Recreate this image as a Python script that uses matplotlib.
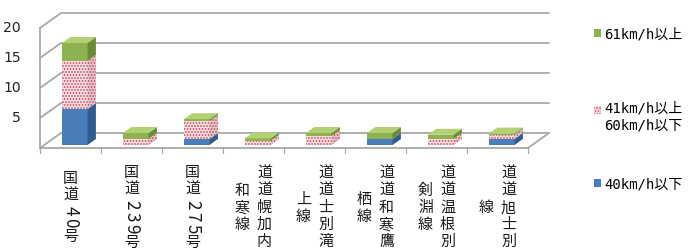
import numpy as np
import matplotlib
matplotlib.use('Agg')
import matplotlib.pyplot as plt
from matplotlib.patches import Polygon, Patch

# categories (tick labels, '\n' = next vertical column to the left)
categories = ['国道40号', '国道239号', '国道275号', '道道幌加内\n和寒線', '道道士別滝\n上線',
              '道道和寒鷹\n栖線', '道道温根別\n剣淵線', '道道旭士別\n線']
low = [6, 0, 1, 0, 0, 1, 0, 1]              # 40km/h以下
mid = [8, 1, 3, 0.7, 1.5, 0, 1, 0.7]        # 41km/h以上60km/h以下
high = [3, 1, 0.3, 0.4, 0.5, 1, 0.7, 0.2]   # 61km/h以上
series_labels = ['61km/h以上', '\n41km/h以上\n60km/h以下', '40km/h以下']
yticks = [5, 10, 15, 20]

W, H = 694, 252
fig = plt.figure(figsize=(W / 72, H / 72), dpi=72, facecolor='white')
ax = fig.add_axes([0, 0, 1, 1])
# one category = 61 px, one unit = 6 px, front-left floor corner at (40, 148) px
ax.set_xlim(-40 / 61, (W - 40) / 61)
ax.set_ylim(-(H - 148) / 6, 148 / 6)
ax.axis('off')

n = len(categories)
DX, DY = 21 / 61, 2.5   # depth of the 3d box

# walls and floor
wall = dict(color='#a8a8a8', lw=1.8, zorder=1, solid_capstyle='round')
for v in [0] + yticks:
    ax.plot([0, DX, n + DX], [v, v + DY, v + DY], **wall)
ax.plot([0, 0], [0, yticks[-1]], **wall)
ax.plot([0, n, n + DX], [0, 0, DY], **wall)
for k in range(n + 1):
    ax.plot([k, k], [0, -0.9], color='#a8a8a8', lw=1.2, zorder=1)

for v in yticks:
    ax.text(-0.31, v, str(v), ha='right', va='center', fontsize=14,
            family=['Liberation Sans Narrow', 'DejaVu Sans'], color='#222222')

# 3d stacked bars
w = 0.42
f0, d = 0.2, 0.4
x = np.arange(n) + 0.5 + f0 * DX
base = f0 * DY
styles = [
    dict(front='#4a7ebb', side='#2f5d92', top='#7aa4d8', hatch=None, hc='none'),
    dict(front='#f6dbe0', side='#e6c4ca', top='#f9e6ea', hatch='....', hc='#b8404f'),
    dict(front='#8db24f', side='#6a8c37', top='#b2d172', hatch=None, hc='none'),
]
bottom = np.zeros(n)
top_style = [None] * n
for vals, st in zip([low, mid, high], styles):
    vals = np.array(vals, dtype=float)
    ax.bar(x, vals, w, bottom=bottom + base, color=st['front'], edgecolor=st['hc'],
           hatch=st['hatch'], linewidth=0, zorder=3)
    for i in range(n):
        if vals[i] <= 0:
            continue
        y0 = bottom[i] + base
        y1 = y0 + vals[i]
        xr = x[i] + w / 2
        side = Polygon([(xr, y0), (xr + d * DX, y0 + d * DY), (xr + d * DX, y1 + d * DY), (xr, y1)],
                       closed=True, facecolor=st['side'], edgecolor=st['hc'], hatch=st['hatch'],
                       linewidth=0, zorder=3)
        ax.add_patch(side)
        top_style[i] = st
    bottom += vals

for i in range(n):
    st = top_style[i]
    yt = bottom[i] + base
    xl, xr = x[i] - w / 2, x[i] + w / 2
    top = Polygon([(xl, yt), (xr, yt), (xr + d * DX, yt + d * DY), (xl + d * DX, yt + d * DY)],
                  closed=True, facecolor=st['top'], edgecolor=st['hc'], hatch=st['hatch'],
                  linewidth=0, zorder=4)
    ax.add_patch(top)

# vertical (tategaki) category labels, digits turned sideways
for i, lab in enumerate(categories):
    cols = lab.split('\n')
    for j, col in enumerate(cols):
        cx = 0 if len(cols) == 1 else (11 if j == 0 else -11)
        pitches = [12 if ch.isdigit() else 17 for ch in col]
        yy = -60 + sum(pitches) / 2
        for ch, p in zip(col, pitches):
            yy -= p / 2
            digit = ch.isdigit()
            ax.annotate(ch, (i + 0.5, 0), xytext=(cx, yy), textcoords='offset points',
                        ha='center', va='center', rotation=-90 if digit else 0,
                        rotation_mode='anchor' if digit else 'default',
                        fontsize=17 if digit else 15, family=['Noto Sans CJK JP'],
                        color='#1a1a1a')
            yy -= p / 2

handles = [Patch(facecolor=styles[2]['front']),
           Patch(facecolor=styles[1]['front'], edgecolor=styles[1]['hc'], hatch='....', linewidth=0),
           Patch(facecolor=styles[0]['front'])]
fig.legend(handles, series_labels, loc='upper left', bbox_to_anchor=(594 / W, 1 - 27 / H),
           frameon=False, prop={'family': ['DejaVu Sans Mono', 'Noto Sans CJK JP'], 'size': 14},
           handlelength=0.5, handleheight=0.5, handletextpad=0.25, labelspacing=3.2,
           borderpad=0, borderaxespad=0)

fig.savefig('out.png', dpi=72, facecolor='white')
